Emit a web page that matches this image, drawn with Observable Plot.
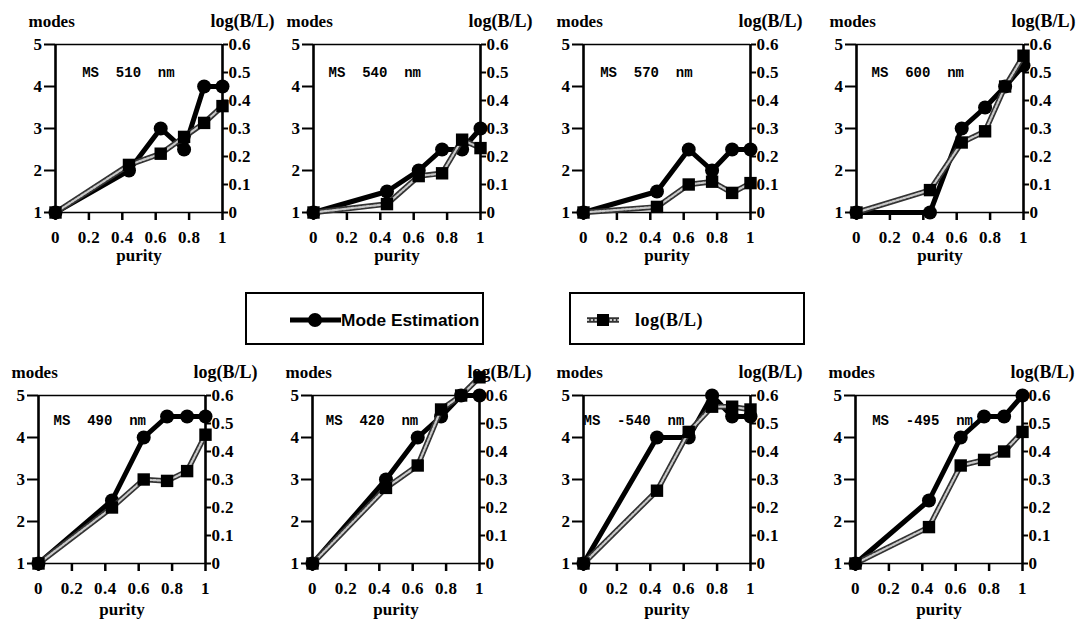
<!DOCTYPE html>
<html>
<head>
<meta charset="utf-8">
<script src="https://cdn.jsdelivr.net/npm/d3@7"></script>
<script src="https://cdn.jsdelivr.net/npm/@observablehq/plot@0.6"></script>
<style>
  html, body { margin: 0; padding: 0; background: white; }
  #root { position: relative; width: 1076px; height: 621px; overflow: hidden; background: white; }
  .panel { position: absolute; }
  .panel svg { overflow: visible; max-width: none; }
</style>
</head>
<body>
<div id="root"></div>
<script>
// ---------- data ----------
const purity = [0, 0.44, 0.63, 0.77, 0.89, 1];
const panelNames = ["MS 510 nm", "MS 540 nm", "MS 570 nm", "MS 600 nm",
                    "MS 490 nm", "MS 420 nm", "MS -540 nm", "MS -495 nm"];
const modes510 = [1, 2, 3, 2.5, 4, 4];
const log510   = [0, 0.17, 0.21, 0.27, 0.32, 0.38];
const modes540 = [1, 1.5, 2, 2.5, 2.5, 3];
const log540   = [0, 0.03, 0.13, 0.14, 0.26, 0.23];
const modes570 = [1, 1.5, 2.5, 2, 2.5, 2.5];
const log570   = [0, 0.02, 0.1, 0.11, 0.07, 0.105];
const modes600 = [1, 1, 3, 3.5, 4, 4.5];
const log600   = [0, 0.08, 0.25, 0.29, 0.45, 0.56];
const modes490 = [1, 2.5, 4, 4.5, 4.5, 4.5];
const log490   = [0, 0.2, 0.3, 0.295, 0.33, 0.46];
const modes420 = [1, 3, 4, 4.5, 5, 5];
const log420   = [0, 0.27, 0.35, 0.55, 0.6, 0.665];
const modesM540 = [1, 4, 4, 5, 4.5, 4.5];
const logM540   = [0, 0.26, 0.47, 0.56, 0.56, 0.55];
const modesM495 = [1, 2.5, 4, 4.5, 4.5, 5];
const logM495   = [0, 0.13, 0.35, 0.37, 0.4, 0.47];

const modesSeries = [modes510, modes540, modes570, modes600, modes490, modes420, modesM540, modesM495];
const logSeries   = [log510, log540, log570, log600, log490, log420, logM540, logM495];

const xTicks = [0, 0.2, 0.4, 0.6, 0.8, 1];
const xTickLabels = ["0", "0.2", "0.4", "0.6", "0.8", "1"];
const modesTicks = [1, 2, 3, 4, 5];
const logTicks = [0, 0.1, 0.2, 0.3, 0.4, 0.5, 0.6];
const logTickLabels = ["0", "0.1", "0.2", "0.3", "0.4", "0.5", "0.6"];
const modesDomain = [1, 5];
const logDomain = [0, 0.6];
const legendLabels = ["Mode Estimation", "log(B/L)"];

// ---------- layout ----------
const toModes = v => modesDomain[0] + (v - logDomain[0]) * (modesDomain[1] - modesDomain[0]) / (logDomain[1] - logDomain[0]);
const plotLefts = [55, 313, 583, 856, 38, 312, 583, 855];
const plotTops = [44, 44, 44, 44, 395, 395, 395, 395];
const plotW = 167, plotH = 168;
const labelDx = [0.16, 0.09, 0.1, 0.09, 0.09, 0.08, 0.0, 0.1];
const labelDy = [28, 28, 28, 28, 25, 25, 25, 25];
const purityDy = [43, 43, 43, 43, 46, 46, 46, 46];
const ML = 50, MR = 65, MT = 50, MB = 65;
const serif = "'Liberation Serif', 'Times New Roman', serif";
const tickFont = 17;

const root = document.getElementById("root");
const rightTicks = logTicks.map(toModes);

panelNames.forEach((name, k) => {
  const rows = purity.map((p, i) => ({purity: p, modes: modesSeries[k][i], logv: logSeries[k][i]}));
  const svg = Plot.plot({
    width: ML + plotW + MR,
    height: MT + plotH + MB,
    marginLeft: ML, marginRight: MR, marginTop: MT, marginBottom: MB,
    x: {domain: [0, 1], axis: null},
    y: {domain: modesDomain, axis: null},
    style: {background: "transparent", fontFamily: serif, fontWeight: "bold", fontSize: tickFont + "px", color: "black", overflow: "visible"},
    marks: [
      // frame lines
      Plot.ruleY([modesDomain[1]], {stroke: "black", strokeWidth: 1.3}),
      Plot.ruleY([modesDomain[0]], {stroke: "black", strokeWidth: 1.5}),
      Plot.ruleX([0], {stroke: "black", strokeWidth: 2.6}),
      Plot.ruleX([1], {stroke: "black", strokeWidth: 2.6}),
      // axes
      Plot.axisX({ticks: xTicks, tickFormat: d => xTickLabels[xTicks.indexOf(d)], tickSize: 8, tickPadding: 10, strokeWidth: 2.5, label: null, fontSize: tickFont}),
      Plot.axisY({anchor: "left", ticks: modesTicks, tickFormat: d => String(d), tickSize: 11, tickPadding: 2, strokeWidth: 2, label: null, fontSize: tickFont}),
      Plot.axisY({anchor: "right", ticks: rightTicks, tickFormat: d => logTickLabels[rightTicks.indexOf(d)], tickSize: 5, tickPadding: 1, strokeWidth: 2, label: null, fontSize: tickFont}),
      // axis titles
      Plot.text(["modes"], {frameAnchor: "top-left", lineAnchor: "middle", textAnchor: "start", dx: -27, dy: -23, fontSize: 17, fontWeight: "bold", fontFamily: serif}),
      Plot.text(["log(B/L)"], {frameAnchor: "top-right", lineAnchor: "middle", textAnchor: "end", dx: 52, dy: -23, fontSize: 18, fontWeight: "bold", fontFamily: serif}),
      Plot.text(["purity"], {frameAnchor: "bottom", lineAnchor: "middle", dy: purityDy[k], fontSize: 17, fontWeight: "bold", fontFamily: serif}),
      // panel label
      Plot.text([name.replace(/ /g, "\u00a0\u00a0")], {frameAnchor: "top-left", lineAnchor: "middle", textAnchor: "start", dx: labelDx[k] * plotW, dy: labelDy[k], fontFamily: "'Liberation Mono', 'Courier New', monospace", fontSize: 14, fontWeight: "bold", letterSpacing: 1.2}),
      // Mode Estimation series
      Plot.line(rows, {x: "purity", y: "modes", stroke: "black", strokeWidth: 5, strokeLinejoin: "round"}),
      Plot.dot(rows, {x: "purity", y: "modes", r: 7, fill: "black", stroke: "none"}),
      // log(B/L) series, drawn on the modes scale via the right axis mapping
      Plot.line(rows, {x: "purity", y: d => toModes(d.logv), stroke: "#333", strokeWidth: 5.5}),
      Plot.line(rows, {x: "purity", y: d => toModes(d.logv), stroke: "#c8c8c8", strokeWidth: 2.2, strokeDasharray: "2.2,1.6"}),
      Plot.dot(rows, {x: "purity", y: d => toModes(d.logv), symbol: "square", r: 7, fill: "black", stroke: "none"})
    ]
  });
  // make sure tick labels use the larger, bold serif face
  svg.querySelectorAll('[aria-label*="tick label"]').forEach(g => {
    g.style.fontSize = tickFont + "px";
    g.style.fontWeight = "bold";
    g.style.fontFamily = serif;
    g.style.letterSpacing = "0.4px";
  });
  const div = document.createElement("div");
  div.className = "panel";
  div.style.left = (plotLefts[k] - ML) + "px";
  div.style.top = (plotTops[k] - MT) + "px";
  div.appendChild(svg);
  root.appendChild(div);
});

// ---------- legend ----------
const leg = d3.select(root).append("svg")
  .attr("width", 1076).attr("height", 621)
  .style("position", "absolute").style("left", "0px").style("top", "0px")
  .style("overflow", "visible").style("pointer-events", "none");

leg.append("rect").attr("x", 246).attr("y", 293).attr("width", 237).attr("height", 51)
  .attr("fill", "white").attr("stroke", "black").attr("stroke-width", 2);
leg.append("line").attr("x1", 290).attr("x2", 341).attr("y1", 320).attr("y2", 320)
  .attr("stroke", "black").attr("stroke-width", 5);
leg.append("circle").attr("cx", 315).attr("cy", 320).attr("r", 7).attr("fill", "black");
leg.append("text").attr("x", 341).attr("y", 326)
  .attr("font-family", "'Liberation Sans', Arial, sans-serif").attr("font-weight", "bold")
  .attr("font-size", 17.3).text(legendLabels[0]);

leg.append("rect").attr("x", 570).attr("y", 293).attr("width", 234).attr("height", 51)
  .attr("fill", "white").attr("stroke", "black").attr("stroke-width", 2);
leg.append("line").attr("x1", 587).attr("x2", 619).attr("y1", 320).attr("y2", 320)
  .attr("stroke", "#333").attr("stroke-width", 5.5);
leg.append("line").attr("x1", 587).attr("x2", 619).attr("y1", 320).attr("y2", 320)
  .attr("stroke", "#c8c8c8").attr("stroke-width", 2.2).attr("stroke-dasharray", "2.2,1.6");
leg.append("rect").attr("x", 597).attr("y", 314).attr("width", 12).attr("height", 12).attr("fill", "black");
leg.append("text").attr("x", 635).attr("y", 326)
  .attr("font-family", serif).attr("font-weight", "bold")
  .attr("font-size", 18).attr("letter-spacing", 0.5).text(legendLabels[1]);
</script>
</body>
</html>
